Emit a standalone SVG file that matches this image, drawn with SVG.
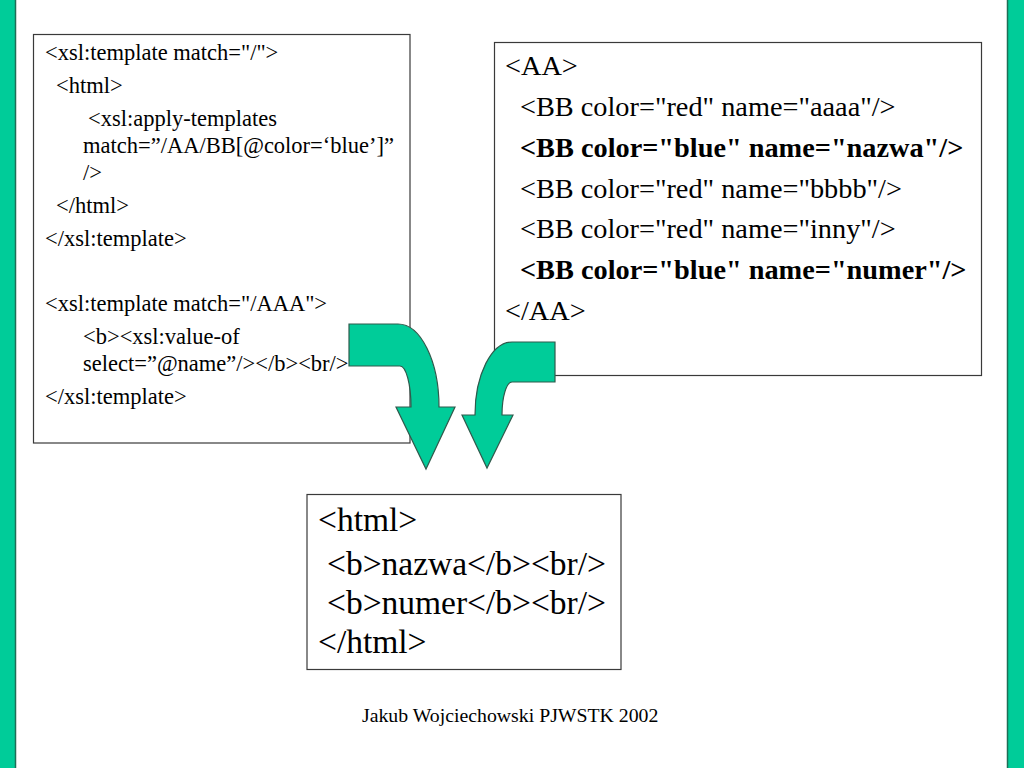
<svg xmlns="http://www.w3.org/2000/svg" width="1024" height="768" viewBox="0 0 1024 768">
<style>
.box{fill:#ffffff;stroke:#3a3a3a;stroke-width:1.2}
.bar{fill:#00CC99}
.baredge{stroke:#1e6e56;stroke-width:1.5}
.arrow{fill:#00CC99;stroke:#2f5a4c;stroke-width:1.2;stroke-linejoin:miter}
.t{font-family:"Liberation Serif","Times New Roman",serif;fill:#000}
.l{font-size:22.5px}
.r{font-size:28.3px}
.b{font-weight:bold}
.o{font-size:33.5px}
.f{font-size:19.8px}
</style>
<rect width="1024" height="768" fill="#ffffff"/>
<g id="bars">
<rect class="bar" x="0" y="0" width="16" height="768"/>
<line class="baredge" x1="15.5" y1="0" x2="15.5" y2="768"/>
<rect class="bar" x="1007" y="0" width="17" height="768"/>
<line class="baredge" x1="1007.5" y1="0" x2="1007.5" y2="768"/>
</g>
<g id="xsl-box">
<rect class="box" x="33.5" y="34.5" width="376.5" height="408.5"/>
<text class="t l" x="45" y="60">&lt;xsl:template match="/"&gt;</text>
<text class="t l" x="56" y="93">&lt;html&gt;</text>
<text class="t l" x="88" y="126">&lt;xsl:apply-templates</text>
<text class="t l" x="83" y="153">match=”/AA/BB[@color=‘blue’]”</text>
<text class="t l" x="83" y="180">/&gt;</text>
<text class="t l" x="56" y="213">&lt;/html&gt;</text>
<text class="t l" x="45" y="246">&lt;/xsl:template&gt;</text>
<text class="t l" x="45" y="311">&lt;xsl:template match="/AAA"&gt;</text>
<text class="t l" x="83" y="344">&lt;b&gt;&lt;xsl:value-of</text>
<text class="t l" x="83" y="371">select=”@name”/&gt;&lt;/b&gt;&lt;br/&gt;</text>
<text class="t l" x="45" y="404">&lt;/xsl:template&gt;</text>
</g>
<g id="xml-box">
<rect class="box" x="494.5" y="42.5" width="487" height="333"/>
<text class="t r" x="505" y="75">&lt;AA&gt;</text>
<text class="t r" x="520" y="116">&lt;BB color="red" name="aaaa"/&gt;</text>
<text class="t r b" x="520" y="157">&lt;BB color="blue" name="nazwa"/&gt;</text>
<text class="t r" x="520" y="198">&lt;BB color="red" name="bbbb"/&gt;</text>
<text class="t r" x="520" y="238">&lt;BB color="red" name="inny"/&gt;</text>
<text class="t r b" x="520" y="279">&lt;BB color="blue" name="numer"/&gt;</text>
<text class="t r" x="505" y="320">&lt;/AA&gt;</text>
</g>
<g id="connectors">
<path class="arrow" d="M349,324 L398,324 C420.6,324 439,361 439,407 L455,407 L426,469 L396,407 L411,407 C411,384 406,366 400,366 L349,366 Z"/>
<path class="arrow" d="M555,342 L512,342 C491.6,342 475,374.7 475,415 L462,415 L487,468 L513,415 L502,415 C502,396.8 506.5,382 512,382 L555,382 Z"/>
</g>
<g id="output-box">
<rect class="box" x="307" y="494.5" width="314" height="175"/>
<text class="t o" x="318" y="531">&lt;html&gt;</text>
<text class="t o" x="327" y="575">&lt;b&gt;nazwa&lt;/b&gt;&lt;br/&gt;</text>
<text class="t o" x="327" y="614">&lt;b&gt;numer&lt;/b&gt;&lt;br/&gt;</text>
<text class="t o" x="318" y="653">&lt;/html&gt;</text>
</g>
<g id="footer">
<text class="t f" x="362" y="722">Jakub Wojciechowski PJWSTK 2002</text>
</g>
</svg>
